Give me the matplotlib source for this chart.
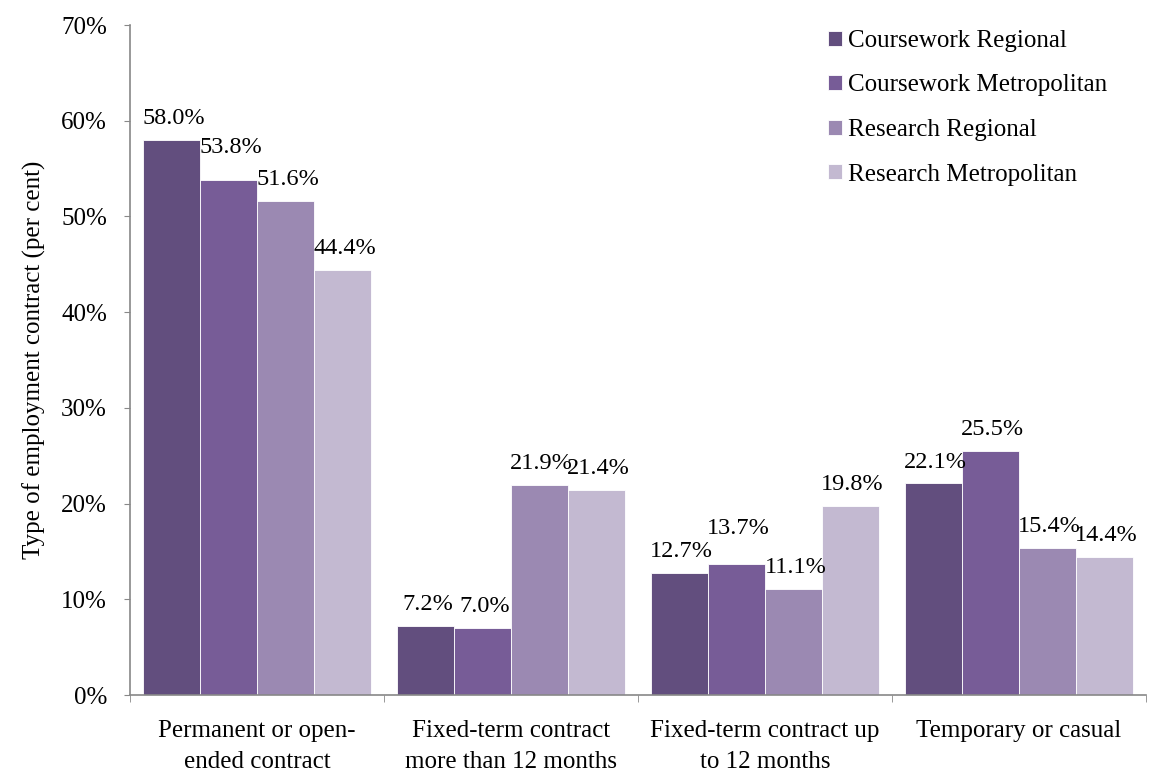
import numpy as np
import matplotlib.pyplot as plt

categories = ["Permanent or open-\nended contract",
              "Fixed-term contract\nmore than 12 months",
              "Fixed-term contract up\nto 12 months",
              "Temporary or casual"]
series = ["Coursework Regional", "Coursework Metropolitan",
          "Research Regional", "Research Metropolitan"]
values = [
    [58.0, 7.2, 12.7, 22.1],
    [53.8, 7.0, 13.7, 25.5],
    [51.6, 21.9, 11.1, 15.4],
    [44.4, 21.4, 19.8, 14.4],
]
colors = ["#624e7e", "#775c97", "#9b89b2", "#c3b9d1"]

# a couple of labels were lifted a bit in the original
label_lift = {(1, 0): 8, (1, 2): 10}

plt.rcParams['font.family'] = ['Liberation Serif', 'DejaVu Serif']
plt.rcParams['font.size'] = 18

fig = plt.figure(figsize=(11.49, 7.72), dpi=100)
ax = fig.add_axes([0.1131, 0.0997, 0.8843, 0.8679])

x = np.arange(len(categories))
w = 0.224
for i, (name, vals) in enumerate(zip(series, values)):
    pos = x + (i - 1.5) * w
    bars = ax.bar(pos, vals, w, color=colors[i], edgecolor="white",
                  linewidth=0.6, label=name)
    for j, (b, v) in enumerate(zip(bars, vals)):
        dy = 11.5 + label_lift.get((i, j), 0)
        ax.annotate(f"{v:.1f}%", (b.get_x() + b.get_width() / 2, v),
                    xytext=(1.5, dy), textcoords="offset points",
                    ha="center", va="baseline", fontsize=17.5)

ax.set_xlim(-0.5, len(categories) - 0.5)
ax.set_ylim(0, 70)
ax.set_yticks(np.arange(0, 71, 10))
ax.set_yticklabels([f"{t}%" for t in range(0, 71, 10)])
ax.set_xticks(x)
ax.set_xticklabels(categories, linespacing=1.5)
ax.set_xticks(np.arange(-0.5, len(categories), 1), minor=True)
ax.tick_params(axis="x", which="major", length=0, pad=18)
ax.tick_params(axis="x", which="minor", length=5, color="#888888", direction="out")
ax.tick_params(axis="y", length=4.5, color="#888888", direction="out", pad=12)
for s in ["top", "right"]:
    ax.spines[s].set_visible(False)
for s in ["left", "bottom"]:
    ax.spines[s].set_color("#888888")
    ax.spines[s].set_linewidth(1.2)
ax.set_ylabel("Type of employment contract (per cent)", fontsize=18, labelpad=11)

ax.legend(loc="upper left", frameon=False, handlelength=0.56, handleheight=0.56,
          handletextpad=0.25, labelspacing=0.9, fontsize=18, borderpad=0,
          borderaxespad=0, bbox_to_anchor=(828 / 1149, 1 - 30 / 772),
          bbox_transform=fig.transFigure)

fig.savefig("out.png", dpi=100)
